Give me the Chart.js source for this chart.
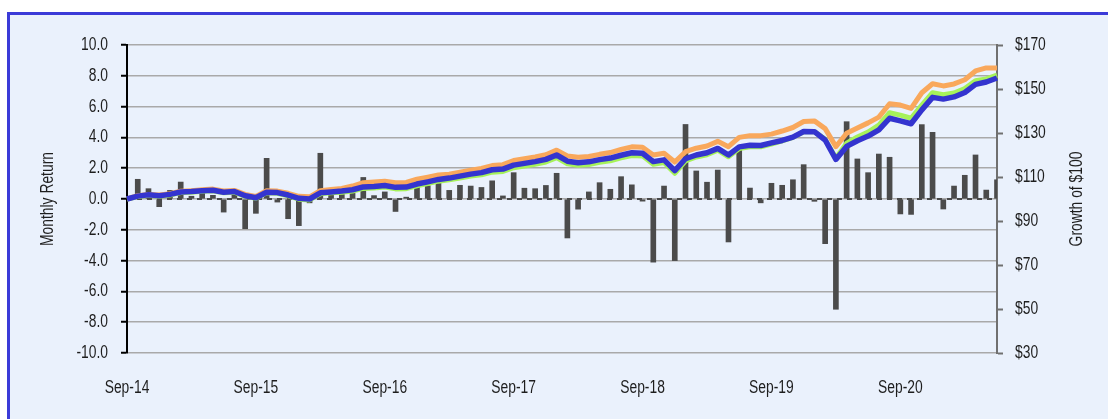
<!DOCTYPE html>
<html>
<head>
<meta charset="utf-8">
<script src="https://cdn.jsdelivr.net/npm/chart.js@4/dist/chart.umd.min.js"></script>
<style>
  html, body { margin: 0; padding: 0; background: #ffffff; width: 1108px; height: 419px; overflow: hidden; }
  #frame { position: absolute; left: 7px; top: 12px; width: 1120px; height: 430px; box-sizing: border-box;
           border: 3px solid #3b3bd8; background: #eaf1fc; }
  #wrap { position: absolute; left: 0; top: 0; width: 1108px; height: 419px; }
</style>
</head>
<body>
<div id="frame"></div>
<div id="wrap"><canvas id="c" width="1108" height="419"></canvas></div>
<script>
const categories = [
  'Sep-14','Oct-14','Nov-14','Dec-14',
  'Jan-15','Feb-15','Mar-15','Apr-15','May-15','Jun-15','Jul-15','Aug-15','Sep-15','Oct-15','Nov-15','Dec-15',
  'Jan-16','Feb-16','Mar-16','Apr-16','May-16','Jun-16','Jul-16','Aug-16','Sep-16','Oct-16','Nov-16','Dec-16',
  'Jan-17','Feb-17','Mar-17','Apr-17','May-17','Jun-17','Jul-17','Aug-17','Sep-17','Oct-17','Nov-17','Dec-17',
  'Jan-18','Feb-18','Mar-18','Apr-18','May-18','Jun-18','Jul-18','Aug-18','Sep-18','Oct-18','Nov-18','Dec-18',
  'Jan-19','Feb-19','Mar-19','Apr-19','May-19','Jun-19','Jul-19','Aug-19','Sep-19','Oct-19','Nov-19','Dec-19',
  'Jan-20','Feb-20','Mar-20','Apr-20','May-20','Jun-20','Jul-20','Aug-20','Sep-20','Oct-20','Nov-20','Dec-20',
  'Jan-21','Feb-21','Mar-21','Apr-21','May-21','Jun-21'
];
const xTickLabels = ['Sep-14','Sep-15','Sep-16','Sep-17','Sep-18','Sep-19','Sep-20'];

// Monthly return (%), left axis
const monthlyReturn = [
  null, 1.28, 0.67, -0.50, 0.56, 1.10, 0.18, 0.40, 0.24, -0.85, 0.25, -1.93, -0.93,
  2.64, -0.20, -1.28, -1.73, -0.25, 2.97, 0.28, 0.30, 0.48, 1.40, 0.22, 0.46,
  -0.81, 0.12, 1.34, 0.86, 1.04, 0.56, 0.89, 0.84, 0.75, 1.18, 0.20, 1.71,
  0.70, 0.67, 0.88, 1.67, -2.53, -0.66, 0.46, 1.06, 0.63, 1.45, 0.92, -0.14,
  -4.10, 0.84, -4.00, 4.84, 1.82, 1.09, 1.88, -2.79, 3.23, 0.71, -0.25, 1.02,
  0.89, 1.25, 2.23, -0.15, -2.90, -7.16, 5.02, 2.60, 1.71, 2.92, 2.71, -0.97,
  -1.00, 4.83, 4.33, -0.65, 0.84, 1.54, 2.86, 0.58, 1.25
];

// Growth of $100, right axis
const growthOrange = [
  100, 101.5, 102.1, 101.8, 102.4, 103.5, 103.8, 104.2, 104.5, 103.6, 103.9, 102.1, 101.2,
  103.8, 103.6, 102.6, 101.2, 101.0, 103.8, 104.3, 104.8, 105.9, 107.4, 107.7, 108.1,
  107.4, 107.5, 109.0, 109.9, 110.9, 111.3, 112.2, 113.1, 113.9, 115.2, 115.6, 117.5,
  118.3, 119.1, 120.1, 122.2, 119.6, 119.0, 119.3, 120.3, 121.1, 122.5, 123.7, 123.5,
  120.0, 120.8, 116.8, 121.5, 123.1, 124.1, 126.2, 123.8, 128.0, 128.8, 128.8, 129.5,
  130.9, 132.5, 135.2, 135.5, 132.0, 123.8, 129.9, 132.3, 134.6, 137.2, 143.3, 142.7,
  141.2, 148.3, 152.4, 151.4, 152.3, 154.2, 158.2, 159.6, 159.5
];
const growthGreen = [
  100, 101.1, 101.7, 101.2, 101.8, 102.9, 103.1, 103.5, 103.7, 102.8, 103.1, 101.2, 100.3,
  102.8, 102.6, 101.4, 99.9, 99.6, 102.4, 102.8, 103.1, 103.6, 104.8, 105.0, 105.4,
  104.6, 104.7, 106.0, 107.0, 108.1, 108.7, 109.5, 110.4, 111.0, 112.2, 112.5, 114.2,
  115.0, 115.8, 116.8, 118.8, 116.0, 115.3, 115.7, 116.7, 117.4, 118.7, 119.8, 119.6,
  115.8, 116.6, 111.7, 117.3, 119.1, 120.1, 122.2, 119.2, 122.9, 123.7, 123.7, 125.0,
  126.4, 128.0, 130.6, 130.7, 127.1, 118.5, 125.4, 128.2, 130.4, 133.6, 139.2, 138.1,
  136.7, 142.7, 148.3, 147.4, 148.2, 150.2, 153.8, 154.6, 156.3
];
const growthBlue = [
  100, 101.3, 101.9, 101.5, 102.1, 103.2, 103.4, 103.8, 104.0, 103.1, 103.4, 101.5, 100.6,
  103.1, 102.9, 101.8, 100.3, 100.0, 102.8, 103.2, 103.6, 104.2, 105.5, 105.7, 106.1,
  105.3, 105.4, 106.8, 107.8, 108.9, 109.5, 110.4, 111.3, 112.0, 113.3, 113.6, 115.4,
  116.2, 117.0, 118.0, 120.0, 117.2, 116.5, 116.9, 117.9, 118.6, 119.9, 121.0, 120.8,
  117.0, 117.8, 112.9, 118.3, 120.0, 121.0, 123.0, 120.0, 123.7, 124.4, 124.3, 125.5,
  126.6, 128.1, 130.7, 130.6, 126.8, 118.0, 123.9, 126.5, 128.6, 131.4, 136.7, 135.5,
  134.2, 140.5, 146.2, 145.4, 146.4, 148.4, 152.1, 153.2, 155.0
];

const leftTitle = 'Monthly Return';
const rightTitle = 'Growth of $100';

const FONT = '"Liberation Sans", Arial, sans-serif';
const FSIZE = 18;
const TXT = '#1e1e1e';

// condensed look: narrow every text draw horizontally
const canvas = document.getElementById('c');
const c2d = canvas.getContext('2d');
const origFillText = c2d.fillText.bind(c2d);
c2d.fillText = function(text, x, y) {
  this.save();
  this.translate(x, y);
  this.scale(0.77, 1);
  origFillText(text, 0, 0);
  this.restore();
};

const zeroLinePlugin = {
  id: 'zeroLine',
  beforeDatasetsDraw(chart) {
    const {ctx, chartArea, scales} = chart;
    const y = Math.round(scales.y.getPixelForValue(0));
    ctx.save();
    ctx.strokeStyle = '#4a4a4a';
    ctx.lineWidth = 2;
    ctx.setLineDash([5, 5]);
    ctx.beginPath();
    ctx.moveTo(chartArea.left, y);
    ctx.lineTo(chartArea.right, y);
    ctx.stroke();
    ctx.restore();
  }
};

const rightTitlePlugin = {
  id: 'rightTitle',
  afterDraw(chart) {
    const s = chart.scales.y2;
    const t = s.options.title;
    const {ctx, chartArea} = chart;
    ctx.save();
    ctx.fillStyle = TXT;
    ctx.font = FSIZE + 'px ' + FONT;
    ctx.textAlign = 'center';
    ctx.textBaseline = 'middle';
    ctx.translate(s.right - 31, (chartArea.top + chartArea.bottom) / 2);
    ctx.rotate(-Math.PI / 2);
    ctx.fillText(t.text, 0, 0);
    ctx.restore();
  }
};

new Chart(canvas, {
  data: {
    labels: categories,
    datasets: [
      { type: 'line', label: 'Orange', data: growthOrange, yAxisID: 'y2', borderColor: '#f9a85c',
        borderWidth: 5, pointRadius: 0, tension: 0, borderJoinStyle: 'round', order: 3 },
      { type: 'line', label: 'Green', data: growthGreen, yAxisID: 'y2', borderColor: '#a6f25a',
        borderWidth: 5, pointRadius: 0, tension: 0, borderJoinStyle: 'round', order: 2 },
      { type: 'line', label: 'Blue', data: growthBlue, yAxisID: 'y2', borderColor: '#3434cf',
        borderWidth: 5.5, pointRadius: 0, tension: 0, borderJoinStyle: 'round', order: 1 },
      { type: 'bar', label: 'Monthly Return', data: monthlyReturn, yAxisID: 'y', backgroundColor: '#4b4b4b',
        barThickness: 5, order: 10 }
    ]
  },
  options: {
    responsive: false,
    animation: false,
    devicePixelRatio: 1,
    layout: { padding: { top: 45, left: 0, right: 0, bottom: 0 } },
    plugins: { legend: { display: false }, tooltip: { enabled: false } },
    scales: {
      x: {
        type: 'category',
        offset: false,
        grid: { display: false },
        border: { display: false },
        ticks: {
          autoSkip: false, maxRotation: 0, minRotation: 0, padding: 16,
          color: TXT, font: { family: FONT, size: FSIZE },
          callback: function(v, i) { const l = categories[i]; return xTickLabels.includes(l) ? l : null; }
        },
        afterFit(s) { s.height = 66; }
      },
      y: {
        position: 'left',
        min: -10, max: 10,
        grid: { color: '#a9a9a9', lineWidth: 1.5, tickColor: '#000', tickLength: 6, tickWidth: 2 },
        border: { display: true, color: '#000', width: 2 },
        ticks: { stepSize: 2, padding: 13, color: TXT, font: { family: FONT, size: FSIZE },
                 callback: v => v.toFixed(1) },
        title: { display: true, text: leftTitle, color: TXT, font: { family: FONT, size: FSIZE },
                 padding: { top: 37, bottom: 0 } },
        afterFit(s) { s.width = 127; }
      },
      y2: {
        position: 'right',
        min: 30, max: 170,
        grid: { drawOnChartArea: false, tickColor: '#707070', tickLength: 6, tickWidth: 2 },
        border: { display: true, color: '#707070', width: 2 },
        ticks: { stepSize: 20, padding: 12, color: TXT, font: { family: FONT, size: FSIZE },
                 callback: v => '$' + v },
        title: { display: false, text: rightTitle },
        afterFit(s) { s.width = 111; }
      }
    }
  },
  plugins: [zeroLinePlugin, rightTitlePlugin]
});
</script>
</body>
</html>
